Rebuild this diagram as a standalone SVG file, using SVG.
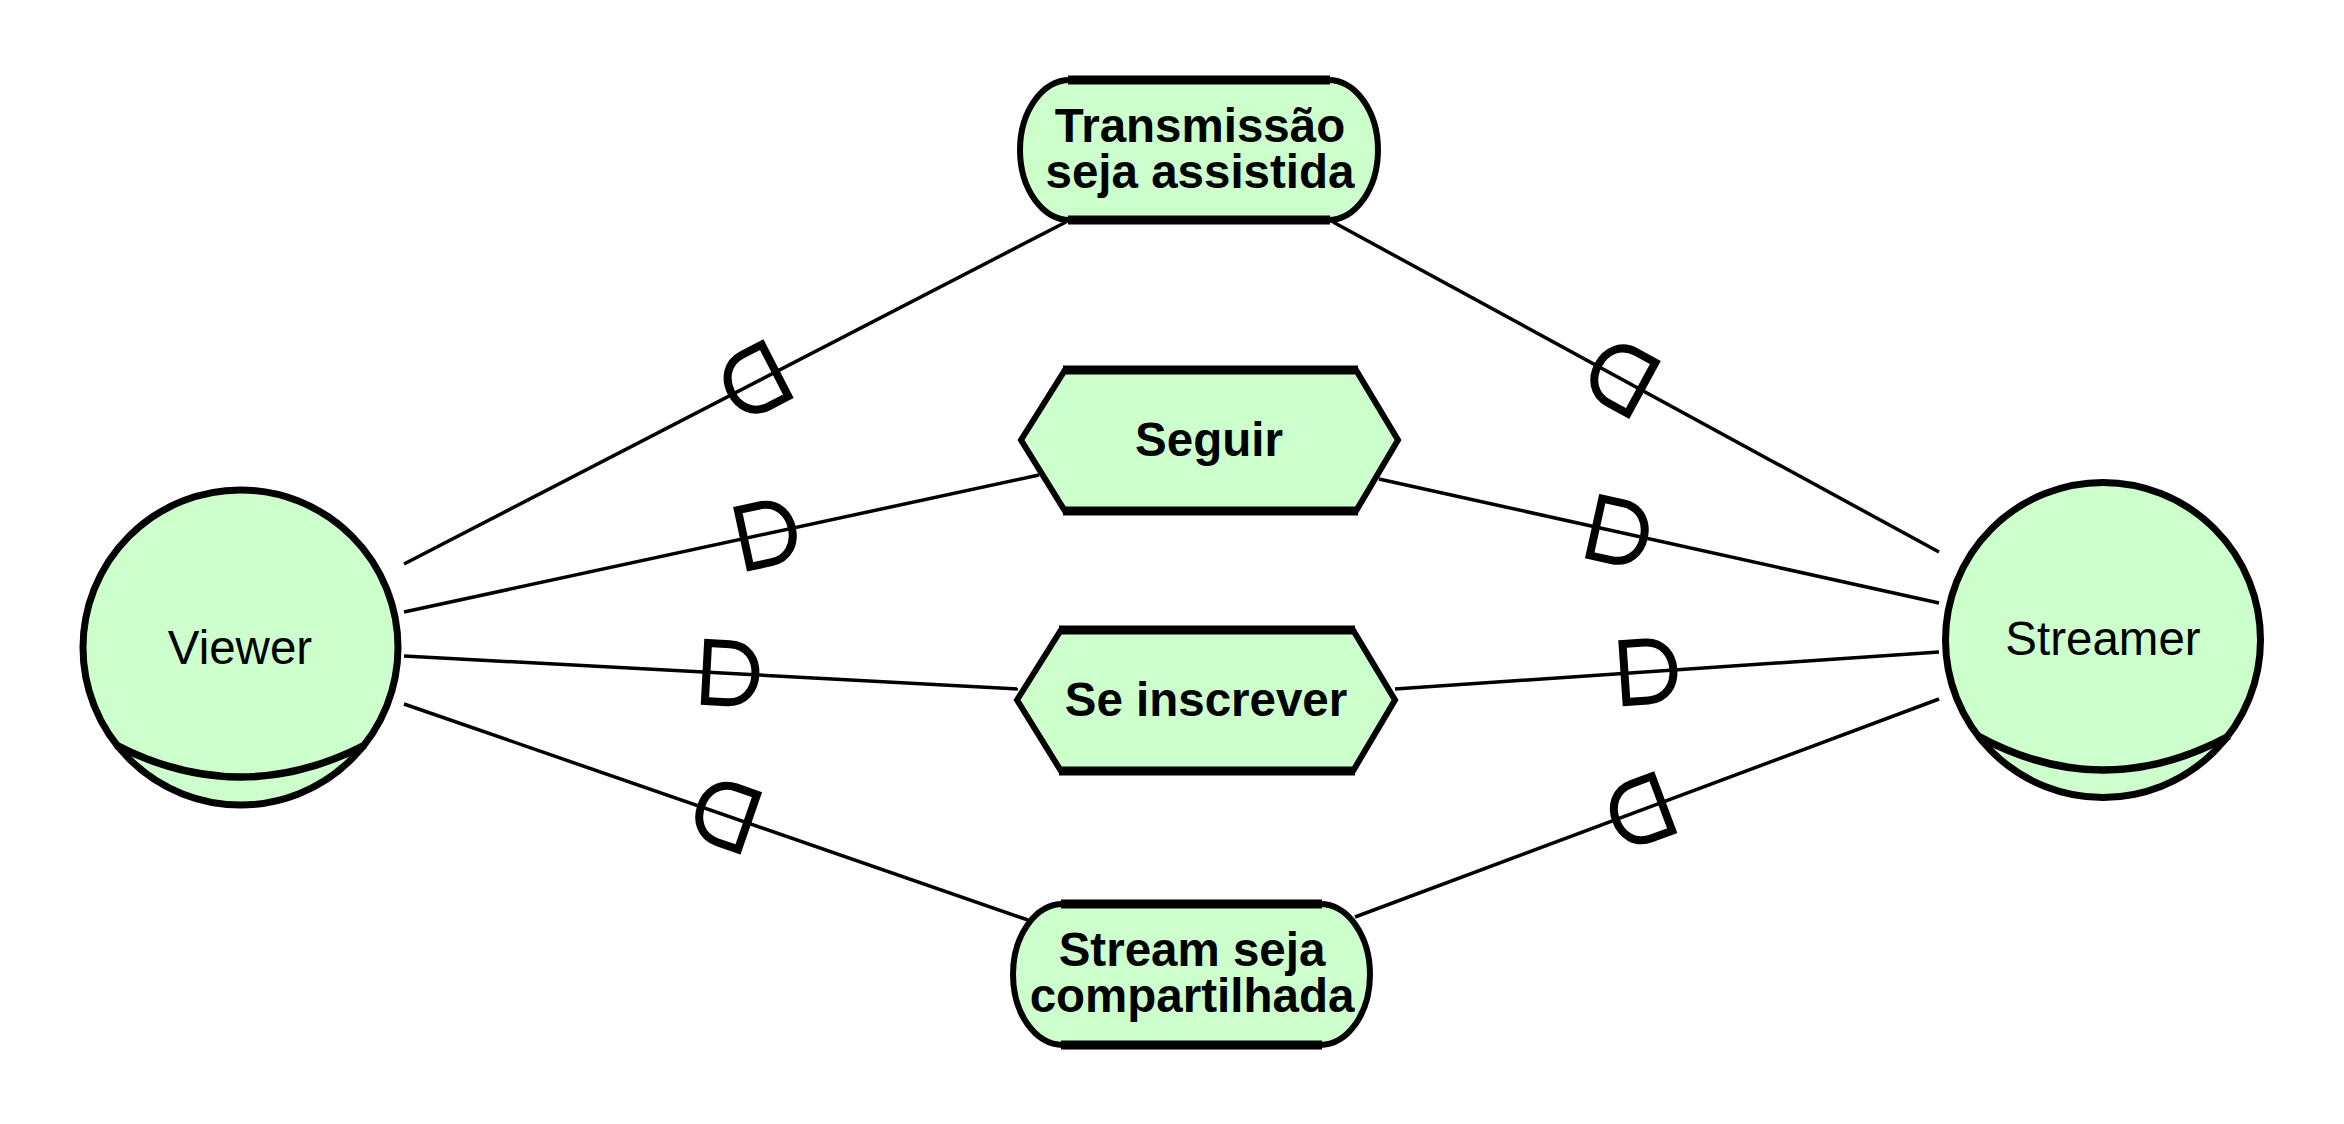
<svg xmlns="http://www.w3.org/2000/svg" xmlns:xlink="http://www.w3.org/1999/xlink" width="2344" height="1124" viewBox="0 0 2344 1124">
<style>
.shape{fill:#CCFFCC;stroke:#000;stroke-width:6;stroke-linejoin:miter}
.edge{fill:none;stroke:#000;stroke-width:9}
.actor{fill:#CCFFCC;stroke:#000;stroke-width:7}
.arc{fill:none;stroke:#000;stroke-width:7.5}
.lbl{font-family:"Liberation Sans",Arial,sans-serif;font-size:47.5px;text-anchor:middle;fill:#000}
.b{font-weight:bold}
.conn{stroke:#000;stroke-width:3.5;fill:none}
.dm{fill:none;stroke:#000;stroke-width:8;stroke-linejoin:miter}
</style>
<defs>
<path id="dmark" d="M0,-29 H22 C40,-29 49,-15 49,0 C49,15 40,29 22,29 H0 Z"/>
</defs>
<rect width="2344" height="1124" fill="#fff"/>
<g id="connectors">
<line class="conn" x1="404" y1="564" x2="1066" y2="222"/>
<line class="conn" x1="404" y1="612" x2="1039" y2="475"/>
<line class="conn" x1="404" y1="656" x2="1018" y2="689"/>
<line class="conn" x1="404" y1="704" x2="1028" y2="920"/>
<line class="conn" x1="1333" y1="222" x2="1939" y2="552"/>
<line class="conn" x1="1379" y1="479" x2="1939" y2="603"/>
<line class="conn" x1="1395" y1="689" x2="1939" y2="652"/>
<line class="conn" x1="1355" y1="917" x2="1939" y2="699"/>
<use xlink:href="#dmark" class="dm" transform="translate(775,370.5) rotate(152.7)"/>
<use xlink:href="#dmark" class="dm" transform="translate(744,538.5) rotate(-12.2)"/>
<use xlink:href="#dmark" class="dm" transform="translate(706.5,672) rotate(3.1)"/>
<use xlink:href="#dmark" class="dm" transform="translate(747.5,822) rotate(199.1)"/>
<use xlink:href="#dmark" class="dm" transform="translate(1641.5,388) rotate(208.6)"/>
<use xlink:href="#dmark" class="dm" transform="translate(1596,527) rotate(12.5)"/>
<use xlink:href="#dmark" class="dm" transform="translate(1624.5,673) rotate(-3.9)"/>
<use xlink:href="#dmark" class="dm" transform="translate(1662,803.5) rotate(159.5)"/>
</g>
<g id="viewer">
<circle class="actor" cx="240.5" cy="647.5" r="157.5"/>
<path class="arc" d="M116,745 Q240.5,809 365,745"/>
<text class="lbl" x="240" y="664">Viewer</text>
</g>
<g id="streamer">
<circle class="actor" cx="2103" cy="640" r="157.5"/>
<path class="arc" d="M1978,736 Q2103,804 2229,736"/>
<text class="lbl" x="2103" y="655">Streamer</text>
</g>
<g id="transmissao">
<path class="shape" d="M1070,80 H1328 A50,70 0 0 1 1328,220 H1070 A50,70 0 0 1 1070,80 Z"/>
<path class="edge" d="M1068,80 H1330 M1068,220 H1330"/>
<text class="lbl b" x="1200" y="142">Transmissão</text>
<text class="lbl b" x="1200" y="188">seja assistida</text>
</g>
<g id="seguir">
<polygon class="shape" points="1021,440 1065,370 1356,370 1398,440 1356,511 1065,511"/>
<path class="edge" d="M1063,370 H1358 M1063,511 H1358" stroke-width="8"/>
<text class="lbl b" x="1209" y="456">Seguir</text>
</g>
<g id="seinscrever">
<polygon class="shape" points="1017,700 1061,630 1353,630 1395,700 1353,771 1061,771"/>
<path class="edge" d="M1059,630 H1355 M1059,771 H1355" stroke-width="8"/>
<text class="lbl b" x="1206" y="716">Se inscrever</text>
</g>
<g id="streamseja">
<path class="shape" d="M1063,904 H1320 A50,70.5 0 0 1 1320,1045 H1063 A50,70.5 0 0 1 1063,904 Z"/>
<path class="edge" d="M1061,904 H1322 M1061,1045 H1322"/>
<text class="lbl b" x="1192" y="966">Stream seja</text>
<text class="lbl b" x="1192" y="1012">compartilhada</text>
</g>
</svg>
